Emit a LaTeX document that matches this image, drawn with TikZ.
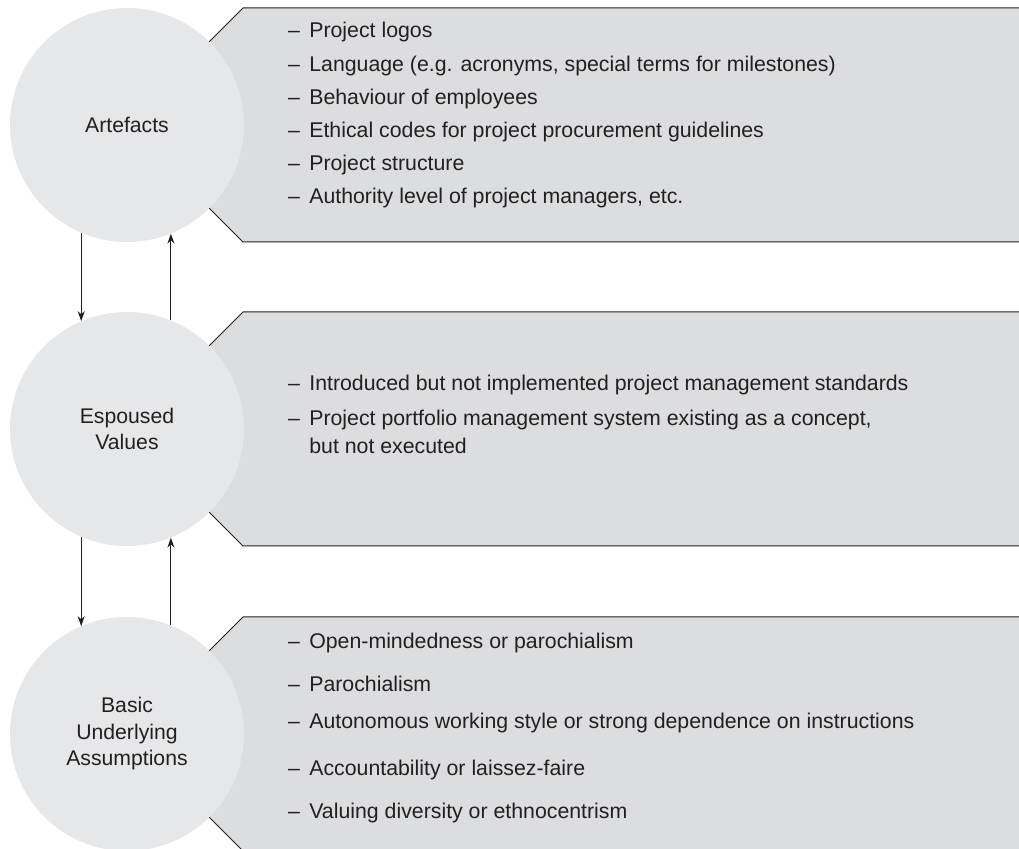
\documentclass[tikz,border=0pt]{standalone}
\usepackage{fontspec}
\setmainfont{Liberation Sans}
\usetikzlibrary{arrows.meta}
\definecolor{circfill}{HTML}{E6E7E8}
\definecolor{panelfill}{HTML}{DCDDDF}
\definecolor{ink}{HTML}{231F20}
\newcommand\bdash{–\hspace{9.3pt}}
\begin{document}
\begin{tikzpicture}[x=1pt,y=1pt,
  panel/.style={draw=ink, line width=1pt, fill=panelfill},
  layer/.style={circle, fill=circfill, minimum size=234pt, inner sep=0pt, align=center, font=\fontsize{21.2}{26.5}\selectfont, text=ink},
  item/.style={anchor=base west, inner sep=0pt, font=\fontsize{21.3}{25}\selectfont, text=ink},
  arr/.style={draw=ink, line width=1pt, -{Stealth[length=10pt,width=7pt]}}
]
\useasboundingbox (0,0) rectangle (1019,848);
% panels
\draw[panel] (126,723) -- (243,840) -- (1030,840) -- (1030,606) -- (243,606) -- cycle;
\draw[panel] (126,419) -- (243,536) -- (1030,536) -- (1030,302) -- (243,302) -- cycle;
\draw[panel] (126,114) -- (243,231) -- (1030,231) -- (1030,-3) -- (243,-3) -- cycle;
% circles
\node[layer] (c1) at (127,723) {Artefacts};
\node[layer] (c2) at (127,419) {Espoused\\Values};
\node[layer] (c3) at (127,114) {Basic\\Underlying\\Assumptions};
% arrows
\draw[arr] (c1.-113.7) -- (c2.113.7);
\draw[arr] (c2.68.5) -- (c1.-68.5);
\draw[arr] (c2.-113.7) -- (c3.113.7);
\draw[arr] (c3.68.5) -- (c2.-68.5);
% panel 1 items
\node[item] (a1) at (288,810) {\bdash Project logos};
\node[item] (a2) at (288,776.8) {\bdash Language (e.g. acronyms, special terms for milestones)};
\node[item] (a3) at (288,743.6) {\bdash Behaviour of employees};
\node[item] (a4) at (288,710.4) {\bdash Ethical codes for project procurement guidelines};
\node[item] (a5) at (288,677.2) {\bdash Project structure};
\node[item] (a6) at (288,644) {\bdash Authority level of project managers, etc.};
% panel 2 items
\node[item] (b1) at (288,457) {\bdash Introduced but not implemented project management standards};
\node[item] (b2) at (288,422) {\bdash Project portfolio management system existing as a concept,};
\node[item] (b3) at (288,394) {\hphantom{\bdash}but not executed};
% panel 3 items
\node[item] (d1) at (288,199) {\bdash Open-mindedness or parochialism};
\node[item] (d2) at (288,156) {\bdash Parochialism};
\node[item] (d3) at (288,119) {\bdash Autonomous working style or strong dependence on instructions};
\node[item] (d4) at (288,72) {\bdash Accountability or laissez-faire};
\node[item] (d5) at (288,30) {\bdash Valuing diversity or ethnocentrism};
\end{tikzpicture}
\end{document}
